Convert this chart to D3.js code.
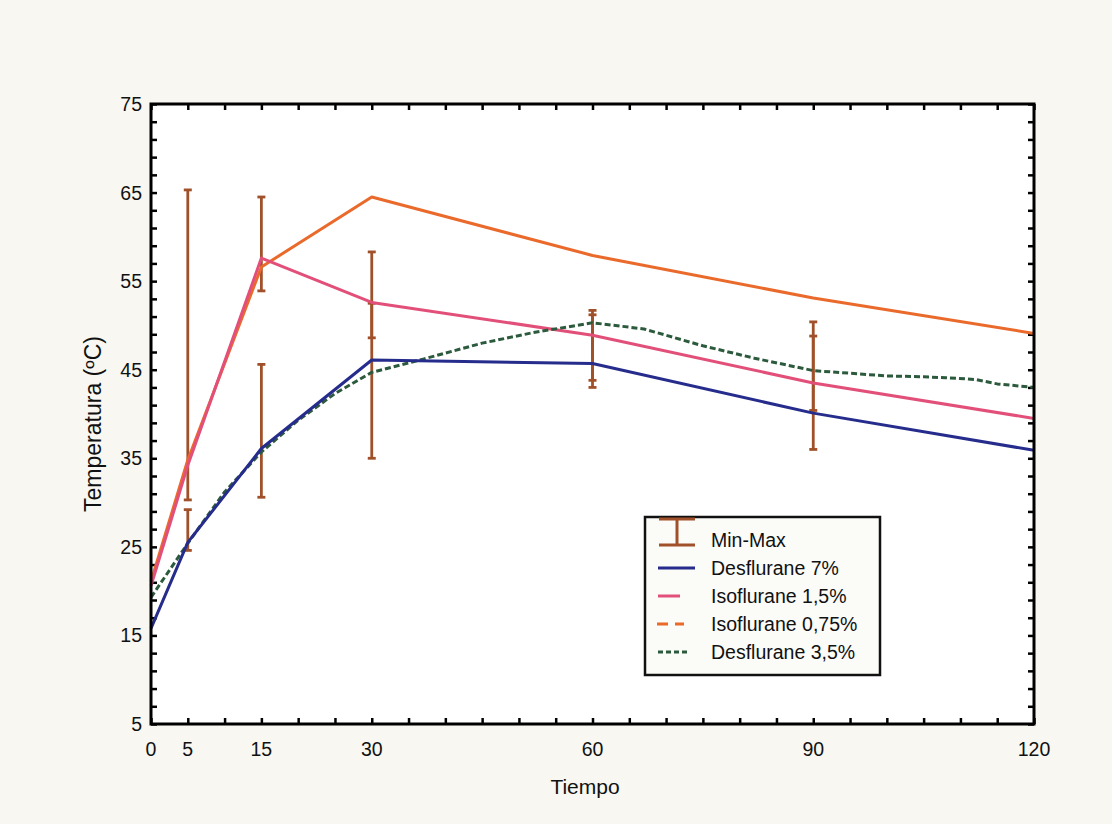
<!DOCTYPE html>
<html>
<head>
<meta charset="utf-8">
<script src="https://cdn.jsdelivr.net/npm/d3@7"></script>
<style>
  body { margin: 0; background: #f8f7f1; }
  svg { display: block; font-family: "Liberation Sans", Arial, sans-serif; }
</style>
</head>
<body>
<div id="app"></div>
<script>
// time points (minutes)
const times = [0, 5, 15, 30, 60, 90, 120]
const xTickLabels = [0, 5, 15, 30, 60, 90, 120]
const yTickLabels = [5, 15, 25, 35, 45, 55, 65, 75]

// series
const desflurane7 = [15.8, 25.5, 36.1, 46.1, 45.7, 40.1, 35.9]
const isoflurane15 = [20.6, 34.2, 57.6, 52.6, 48.9, 43.5, 39.5]
const isoflurane075 = [21.1, 34.8, 56.6, 64.5, 57.9, 53.1, 49.1]

// desflurane 3,5% has a wavy trace, read at more places
const desf35Times = [0, 5, 10, 15, 20, 25, 30, 37, 45, 52, 60, 67, 75, 82, 90, 95, 100, 105, 108, 112, 115, 120]
const desflurane35 = [19.3, 25.4, 31.2, 35.7, 39.3, 42.3, 44.7, 46.2, 48.0, 49.2, 50.3, 49.6, 47.7, 46.3, 44.9, 44.6, 44.3, 44.2, 44.1, 43.9, 43.4, 43.0]

// min-max bars
const barTimes = [5, 5, 15, 15, 30, 30, 60, 60, 90, 90]
const barMin = [30.3, 24.6, 53.9, 30.6, 48.6, 35.0, 43.0, 43.8, 40.4, 36.0]
const barMax = [65.3, 29.2, 64.5, 45.6, 58.3, 52.5, 51.7, 51.2, 50.4, 48.8]

const legendLabels = ['Min-Max', 'Desflurane 7%', 'Isoflurane 1,5%', 'Isoflurane 0,75%', 'Desflurane 3,5%']

const W = 1112, H = 824
const mLeft = 151, mRight = 1034, mTop = 104, mBottom = 724

const svg = d3.select('#app').append('svg')
  .attr('width', W)
  .attr('height', H)

svg.append('rect').attr('width', W).attr('height', H).attr('fill', '#f8f7f1')
svg.append('rect')
  .attr('x', mLeft).attr('y', mTop)
  .attr('width', mRight - mLeft).attr('height', mBottom - mTop)
  .attr('fill', '#ffffff')

const x = d3.scaleLinear().domain([0, 120]).range([mLeft, mRight])
const y = d3.scaleLinear().domain([5, 75]).range([mBottom, mTop])

// ticks pointing inwards on all four sides
const xMinor = d3.range(0, 121, 5)
const yMinor = d3.range(5, 76, 2)
const tickLen = 6

svg.append('g')
  .attr('transform', `translate(0,${mBottom})`)
  .call(d3.axisTop(x).tickValues(xMinor).tickSize(tickLen).tickFormat(''))
svg.append('g')
  .attr('transform', `translate(0,${mTop})`)
  .call(d3.axisBottom(x).tickValues(xMinor).tickSize(tickLen).tickFormat(''))
svg.append('g')
  .attr('transform', `translate(${mLeft},0)`)
  .call(d3.axisRight(y).tickValues(yMinor).tickSize(tickLen).tickFormat(''))
svg.append('g')
  .attr('transform', `translate(${mRight},0)`)
  .call(d3.axisLeft(y).tickValues(yMinor).tickSize(tickLen).tickFormat(''))
svg.selectAll('.domain').remove()
svg.selectAll('.tick line').attr('stroke', '#000').attr('stroke-width', 2.5)

// tick labels
svg.append('g')
  .selectAll('text')
  .data(xTickLabels)
  .join('text')
  .attr('x', (d) => x(d))
  .attr('y', mBottom + 32)
  .attr('text-anchor', 'middle')
  .attr('font-size', 19.5)
  .attr('fill', '#111')
  .text((d) => d)

svg.append('g')
  .selectAll('text')
  .data(yTickLabels)
  .join('text')
  .attr('x', mLeft - 9)
  .attr('y', (d) => y(d) + 7)
  .attr('text-anchor', 'end')
  .attr('font-size', 19.5)
  .attr('fill', '#111')
  .text((d) => d)

svg.append('text')
  .attr('x', 585)
  .attr('y', 794)
  .attr('text-anchor', 'middle')
  .attr('font-size', 21)
  .attr('fill', '#111')
  .text('Tiempo')

svg.append('text')
  .attr('transform', 'translate(101,424) rotate(-90)')
  .attr('text-anchor', 'middle')
  .attr('font-size', 23)
  .attr('fill', '#111')
  .text('Temperatura (ºC)')

const plot = svg.append('g')

// min-max bars
const brown = '#a0512a'
const bars = plot.append('g')
  .selectAll('g')
  .data(barTimes.map((t, i) => ({ t, lo: barMin[i], hi: barMax[i] })))
  .join('g')
  .attr('stroke', brown)
  .attr('stroke-width', 2.8)
bars.append('line')
  .attr('x1', (d) => x(d.t)).attr('x2', (d) => x(d.t))
  .attr('y1', (d) => y(d.lo)).attr('y2', (d) => y(d.hi))
bars.append('line')
  .attr('x1', (d) => x(d.t) - 4).attr('x2', (d) => x(d.t) + 4)
  .attr('y1', (d) => y(d.lo)).attr('y2', (d) => y(d.lo))
bars.append('line')
  .attr('x1', (d) => x(d.t) - 4).attr('x2', (d) => x(d.t) + 4)
  .attr('y1', (d) => y(d.hi)).attr('y2', (d) => y(d.hi))

const line = d3.line()
  .x((d) => x(d[0]))
  .y((d) => y(d[1]))

const series = [
  { times: times, values: isoflurane075, color: '#ea6a2c', dash: null, width: 3 },
  { times: times, values: isoflurane15, color: '#e2507a', dash: null, width: 3 },
  { times: desf35Times, values: desflurane35, color: '#2c5a3c', dash: '6,3', width: 3 },
  { times: times, values: desflurane7, color: '#262c8c', dash: null, width: 3 }
]

plot.selectAll('path.series')
  .data(series)
  .join('path')
  .attr('class', 'series')
  .attr('d', (s) => line(s.times.map((t, i) => [t, s.values[i]])))
  .attr('fill', 'none')
  .attr('stroke', (s) => s.color)
  .attr('stroke-width', (s) => s.width)
  .attr('stroke-dasharray', (s) => s.dash)
  .attr('stroke-linejoin', 'round')

// frame
svg.append('rect')
  .attr('x', mLeft).attr('y', mTop)
  .attr('width', mRight - mLeft).attr('height', mBottom - mTop)
  .attr('fill', 'none')
  .attr('stroke', '#000')
  .attr('stroke-width', 3)

// legend
const lg = svg.append('g').attr('transform', 'translate(645,517)')
lg.append('rect')
  .attr('width', 235).attr('height', 158)
  .attr('fill', '#fbfbf8')
  .attr('stroke', '#111')
  .attr('stroke-width', 2.5)

const rowY = (i) => 23 + i * 28
const items = lg.selectAll('g.item')
  .data(legendLabels)
  .join('g')
  .attr('class', 'item')
  .attr('transform', (d, i) => `translate(0,${rowY(i)})`)

items.append('text')
  .attr('x', 66)
  .attr('y', 7)
  .attr('font-size', 19.5)
  .attr('fill', '#111')
  .text((d) => d)

// Min-Max symbol
const sym0 = lg.append('g').attr('transform', `translate(0,${rowY(0)})`)
  .attr('stroke', brown).attr('stroke-width', 3)
sym0.append('line').attr('x1', 32).attr('x2', 32).attr('y1', -21).attr('y2', 5)
sym0.append('line').attr('x1', 14).attr('x2', 50).attr('y1', 5).attr('y2', 5)
sym0.append('line').attr('x1', 14).attr('x2', 50).attr('y1', -21).attr('y2', -21)

const legendLines = [
  { color: '#262c8c', x1: 13, x2: 50, dash: null },
  { color: '#e2507a', x1: 13, x2: 35, dash: null },
  { color: '#ea6a2c', x1: 12, x2: 39, dash: '11,7' },
  { color: '#2c5a3c', x1: 13, x2: 45, dash: '5,3' }
]
legendLines.forEach((l, i) => {
  lg.append('line')
    .attr('x1', l.x1).attr('x2', l.x2)
    .attr('y1', rowY(i + 1)).attr('y2', rowY(i + 1))
    .attr('stroke', l.color)
    .attr('stroke-width', 3)
    .attr('stroke-dasharray', l.dash)
})
</script>
</body>
</html>
